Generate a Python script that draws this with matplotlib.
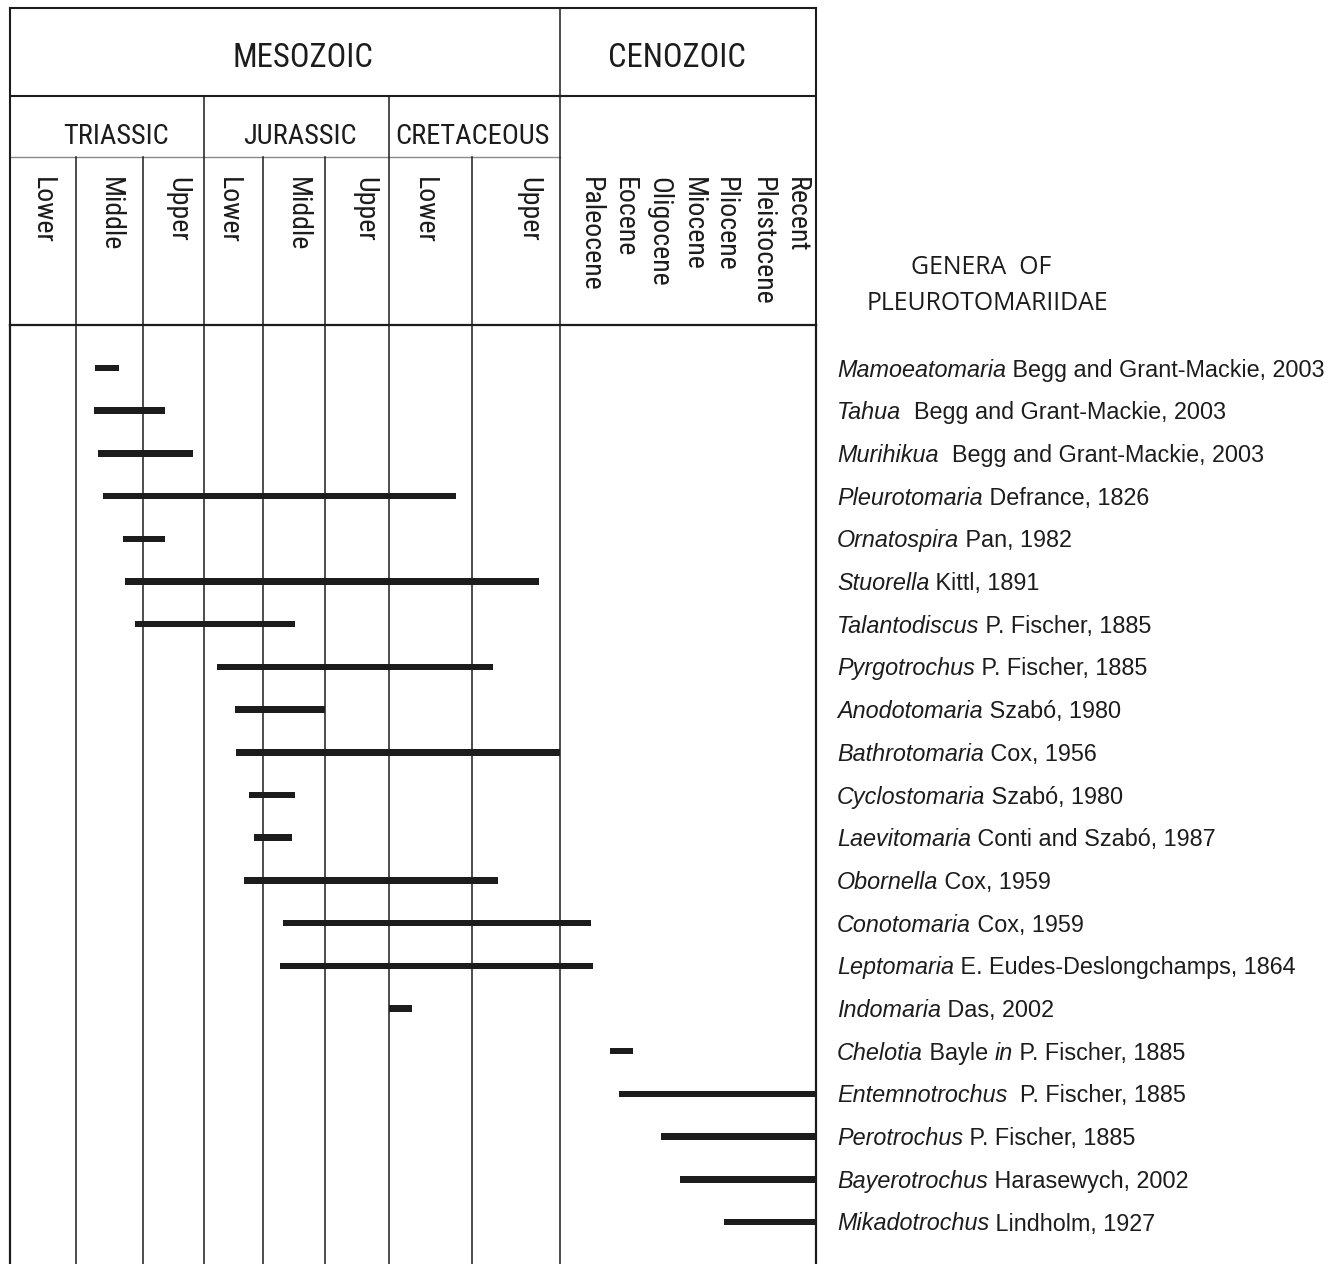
import numpy as np
import matplotlib
matplotlib.use("Agg")
import matplotlib.pyplot as plt
from matplotlib import font_manager, transforms

# ---------------- data ----------------
era_labels = ["MESOZOIC", "CENOZOIC"]
era_pos = [4.645, 8.457]
period_labels = ["TRIASSIC", "JURASSIC", "CRETACEOUS"]
period_pos = [1.60, 4.60, 7.01]
stage_labels = ["Lower", "Middle", "Upper", "Lower", "Middle", "Upper", "Lower", "Upper"]
stage_pos = [0.485, 1.52, 2.57, 3.42, 4.55, 5.62, 6.43, 7.64]
ceno_labels = ["Paleocene", "Eocene", "Oligocene", "Miocene", "Pliocene", "Pleistocene", "Recent"]
ceno_pos = [8.117, 8.25, 8.387, 8.52, 8.645, 8.789, 8.922]

genera = ["Mamoeatomaria", "Tahua", "Murihikua", "Pleurotomaria", "Ornatospira",
          "Stuorella", "Talantodiscus", "Pyrgotrochus", "Anodotomaria", "Bathrotomaria",
          "Cyclostomaria", "Laevitomaria", "Obornella", "Conotomaria", "Leptomaria",
          "Indomaria", "Chelotia", "Entemnotrochus", "Perotrochus", "Bayerotrochus",
          "Mikadotrochus"]
authors = [" Begg and Grant-Mackie, 2003", "  Begg and Grant-Mackie, 2003",
           "  Begg and Grant-Mackie, 2003", " Defrance, 1826", " Pan, 1982",
           " Kittl, 1891", " P. Fischer, 1885", " P. Fischer, 1885", " Szabó, 1980",
           " Cox, 1956", " Szabó, 1980", " Conti and Szabó, 1987", " Cox, 1959",
           " Cox, 1959", " E. Eudes-Deslongchamps, 1864", " Das, 2002",
           " Bayle *in* P. Fischer, 1885", "  P. Fischer, 1885", " P. Fischer, 1885",
           " Harasewych, 2002", " Lindholm, 1927"]
# stratigraphic range in stage units (0 = base Lower Triassic ... 8 = base Cenozoic, 9 = Recent)
range_start = [1.28, 1.27, 1.33, 1.40, 1.70, 1.73, 1.88, 3.22, 3.53, 3.54, 3.76,
               3.85, 3.68, 4.32, 4.27, 6.00, 8.195, 8.23, 8.395, 8.47, 8.64]
range_end = [1.64, 2.36, 2.82, 6.81, 2.36, 7.76, 4.52, 7.24, 5.00, 8.00, 4.52,
             4.47, 7.30, 8.12, 8.13, 6.28, 8.285, 9.0, 9.0, 9.0, 9.0]

# ---------------- layout ----------------
W, H = 1330, 1264
stage_edges = np.arange(10)
px_edges = np.array([10, 76, 143, 204, 263, 325, 389, 472, 560, 816], float)
T_TOP, ERA_BOT, PER_BOT, HEAD_BOT, T_BOT = 8, 96, 157, 325, 1264
ROW0, PITCH = 368.0, 42.7
INK = "#1c1c1c"

names = {f.name for f in font_manager.fontManager.ttflist}
NARROW = "Roboto Condensed" if "Roboto Condensed" in names else "Liberation Sans"
LAB = "Liberation Sans"

def fwd(x):
    return np.interp(x, stage_edges, px_edges)

def inv(x):
    return np.interp(x, px_edges, stage_edges)

fig = plt.figure(figsize=(W / 100, H / 100), dpi=100)
fig.patch.set_facecolor("white")

# header axes (y in pixel-like layout units)
hx = fig.add_axes([10 / W, (H - HEAD_BOT) / H, 806 / W, (HEAD_BOT - T_TOP) / H])
hx.set_xscale("function", functions=(fwd, inv))
hx.set_xlim(0, 9)
hx.set_ylim(HEAD_BOT, T_TOP)
hx.set_xticks([]); hx.set_yticks([])
for s in ["top", "left", "right"]:
    hx.spines[s].set_linewidth(1.5); hx.spines[s].set_color(INK)
hx.spines["bottom"].set_visible(False)
hx.patch.set_alpha(0)

hx.plot([0, 9], [ERA_BOT, ERA_BOT], color=INK, lw=1.5, solid_capstyle="butt")
hx.plot([0, 8], [PER_BOT, PER_BOT], color="#8a8a8a", lw=1.0)
hx.plot([8, 8], [T_TOP, HEAD_BOT], color=INK, lw=1.1)
for b in [3, 6]:
    hx.plot([b, b], [ERA_BOT, HEAD_BOT], color=INK, lw=1.1)
for b in [1, 2, 4, 5, 7]:
    hx.plot([b, b], [PER_BOT, HEAD_BOT], color=INK, lw=1.1)

for lab, x in zip(era_labels, era_pos):
    hx.text(x, 58, lab, fontsize=23.5, family=NARROW, weight="normal",
            ha="center", va="center", color=INK)
for lab, x in zip(period_labels, period_pos):
    hx.text(x, 136, lab, fontsize=20.4, family=NARROW, weight="normal",
            ha="center", va="center", color=INK)
for lab, x in zip(stage_labels + ceno_labels, stage_pos + ceno_pos):
    hx.text(x, 177, lab, fontsize=20.1, family=NARROW, weight="normal",
            rotation=270, ha="center", va="top", color=INK)

# range axes (y in row units)
ax = fig.add_axes([10 / W, 0, 806 / W, (T_BOT - HEAD_BOT) / H])
ax.set_xscale("function", functions=(fwd, inv))
ax.set_xlim(0, 9)
ax.set_ylim((T_BOT - ROW0) / PITCH, (HEAD_BOT - ROW0) / PITCH)
ax.set_xticks([]); ax.set_yticks([])
for s in ["top", "left", "right"]:
    ax.spines[s].set_linewidth(1.6); ax.spines[s].set_color(INK)
ax.spines["bottom"].set_visible(False)
for b in range(1, 9):
    ax.axvline(b, color=INK, lw=1.1)

rows = np.arange(len(genera))
ax.barh(rows, np.array(range_end) - np.array(range_start), left=range_start,
        height=0.15, color=INK, linewidth=0, zorder=3)

# genus labels
trans = transforms.offset_copy(ax.get_yaxis_transform(), fig=fig, x=0, y=-8.5, units="dots")
lab_x = (837 - 10) / 806
for i, (g, a) in enumerate(zip(genera, authors)):
    t = ax.text(lab_x, i, g, transform=trans, fontsize=16.8, family=LAB, style="italic",
                ha="left", va="baseline", color=INK, clip_on=False)
    prev = t
    for k, seg in enumerate(a.split("*")):
        if seg == "":
            continue
        prev = ax.annotate(seg, xy=(1, 0), xycoords=prev, fontsize=16.8, family=LAB,
                           style="italic" if k % 2 else "normal", ha="left", va="bottom",
                           color=INK, annotation_clip=False)

fig.text(981 / W, 1 - 268 / H, "GENERA  OF", family="Open Sans", fontsize=17.9,
         ha="center", va="center", color=INK)
fig.text(987 / W, 1 - 303 / H, "PLEUROTOMARIIDAE", family="Open Sans", fontsize=17.9,
         ha="center", va="center", color=INK)

fig.savefig("out.png", dpi=100, facecolor="white")
